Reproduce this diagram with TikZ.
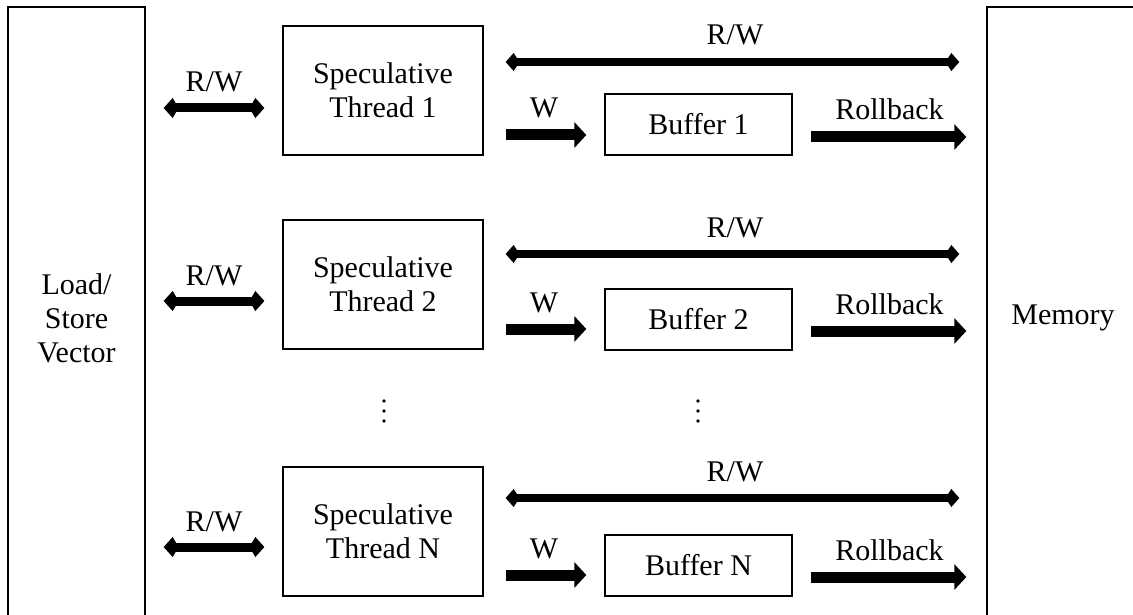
\documentclass[tikz,border=0pt]{standalone}
\usepackage{fontspec}
\setmainfont{Liberation Serif}
\usetikzlibrary{arrows.meta}
\begin{document}
\begin{tikzpicture}[x=1pt,y=-1pt,
  every node/.style={font=\fontsize{30}{34}\selectfont},
  blk/.style={draw, line width=1.3pt, inner sep=0pt, align=center},
  side/.style={blk, minimum height=622pt},
  thread/.style={blk, minimum width=200pt, minimum height=129pt},
  buf/.style={blk, minimum width=187pt, minimum height=61pt},
  rwshort/.style={line width=9pt, {Kite[length=15pt,width=20pt,inset=6pt]}-{Kite[length=15pt,width=20pt,inset=6pt]}},
  rwlong/.style={line width=8pt, {Kite[length=14pt,width=18pt,inset=6pt]}-{Kite[length=14pt,width=18pt,inset=6pt]}},
  wr/.style={line width=11pt, -{Triangle[length=12pt,width=25pt]}},
  lbl/.style={anchor=base, inner sep=0pt, yshift=17pt},
  dot/.style={fill, circle, inner sep=0pt, minimum size=3.6pt}]
\useasboundingbox (0,0) rectangle (1133,615);
\clip (0,0) rectangle (1133,615);

% outer blocks
\node[side, minimum width=137pt] (lsv) at (76.5,318) {Load/\\Store\\Vector};
\node[side, minimum width=152pt] (mem) at (1063,318) {Memory};

% threads and their buffers
\node[thread] (t1) at (383,90.5)  {Speculative\\Thread 1};
\node[thread] (t2) at (383,284.5) {Speculative\\Thread 2};
\node[thread] (tn) at (383,531.5) {Speculative\\Thread N};

\node[buf] (b1) at (698.5,124.5) {Buffer 1};
\node[buf] (b2) at (698.5,319.5) {Buffer 2};
\node[buf] (bn) at (698.5,565.5) {Buffer N};

% vertical ellipses between the rows
\foreach \yy [count=\k] in {401,411,421} {
  \node[dot] (da\k) at (384,\yy) {};
  \node[dot] (db\k) at (698,\yy) {};
}

% row 1
\draw[rwshort, shorten <=18pt, shorten >=18pt] (lsv.east |- 0,108) -- node[lbl, yshift=-1pt]{R/W} (t1.west |- 0,108);
\draw[rwlong, shorten <=22pt, shorten >=27pt] (t1.east |- 0,62) -- node[lbl]{R/W} (mem.west |- 0,62);
\draw[wr, shorten <=22pt, shorten >=18pt] (t1.east |- 0,135) -- node[lbl]{W} (b1.west |- 0,135);
\draw[wr, shorten <=18pt, shorten >=20pt] (b1.east |- 0,137) -- node[lbl]{Rollback} (mem.west |- 0,137);

% row 2
\draw[rwshort, shorten <=18pt, shorten >=18pt] (lsv.east |- 0,301) -- node[lbl, yshift=-1pt]{R/W} (t2.west |- 0,301);
\draw[rwlong, shorten <=22pt, shorten >=27pt] (t2.east |- 0,254) -- node[lbl]{R/W} (mem.west |- 0,254);
\draw[wr, shorten <=22pt, shorten >=18pt] (t2.east |- 0,329) -- node[lbl]{W} (b2.west |- 0,329);
\draw[wr, shorten <=18pt, shorten >=20pt] (b2.east |- 0,331) -- node[lbl]{Rollback} (mem.west |- 0,331);

% row N
\draw[rwshort, shorten <=18pt, shorten >=18pt] (lsv.east |- 0,547) -- node[lbl, yshift=-1pt]{R/W} (tn.west |- 0,547);
\draw[rwlong, shorten <=22pt, shorten >=27pt] (tn.east |- 0,498) -- node[lbl]{R/W} (mem.west |- 0,498);
\draw[wr, shorten <=22pt, shorten >=18pt] (tn.east |- 0,575) -- node[lbl]{W} (bn.west |- 0,575);
\draw[wr, shorten <=18pt, shorten >=20pt] (bn.east |- 0,577) -- node[lbl]{Rollback} (mem.west |- 0,577);
\end{tikzpicture}
\end{document}
